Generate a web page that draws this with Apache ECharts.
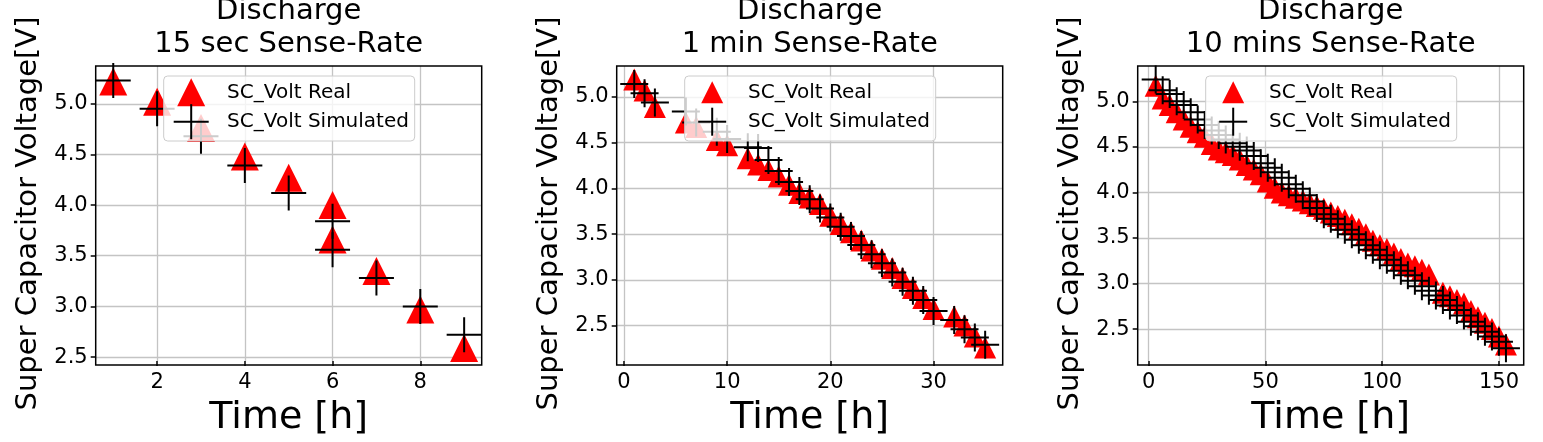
<!DOCTYPE html>
<html><head><meta charset="utf-8">
<script src="https://cdn.jsdelivr.net/npm/echarts@6/dist/echarts.min.js"></script>
<style>html,body{margin:0;padding:0;background:#fff}#c{width:1543px;height:442px}</style>
</head><body><div id="c"></div>
<script>
// ---------------- data ----------------
const titles = ['Discharge\n15 sec Sense-Rate', 'Discharge\n1 min Sense-Rate', 'Discharge\n10 mins Sense-Rate'];
const xLabel = 'Time [h]';
const yLabel = 'Super Capacitor Voltage[V]';
const nameReal = 'SC_Volt Real';
const nameSim = 'SC_Volt Simulated';

const time15s = [1, 2, 3, 4, 5, 6, 6, 7, 8, 9];
const real15s = [5.22, 5.02, 4.76, 4.48, 4.27, 4.00, 3.66, 3.35, 2.97, 2.59];
const sim15s  = [5.23, 4.95, 4.68, 4.39, 4.12, 3.84, 3.56, 3.28, 3.00, 2.72];

const time1m = [1, 2, 3, 6, 7, 9, 10, 12, 13, 14, 15, 16, 17, 18, 19, 20, 21, 22, 23, 24, 25, 26, 27, 28, 29, 30, 32, 33, 34, 35];
const real1m = [5.19, 5.07, 4.89, 4.72, 4.67, 4.53, 4.47, 4.33, 4.26, 4.20, 4.13, 4.04, 3.95, 3.90, 3.83, 3.70, 3.61, 3.52, 3.43, 3.32, 3.23, 3.13, 3.02, 2.91, 2.80, 2.68, 2.60, 2.50, 2.38, 2.26];
const sim1m  = [5.14, 5.04, 4.94, 4.84, 4.72, 4.62, 4.54, 4.45, 4.44, 4.31, 4.19, 4.07, 3.97, 3.88, 3.78, 3.68, 3.58, 3.48, 3.38, 3.28, 3.18, 3.08, 2.98, 2.88, 2.78, 2.66, 2.56, 2.46, 2.37, 2.29];

const time10m = [3, 6, 9, 12, 15, 18, 21, 24, 27, 30, 33, 36, 39, 42, 45, 48, 51, 54, 57, 60, 63, 66, 69, 72, 75, 78, 81, 84, 87, 90, 93, 96, 99, 102, 105, 108, 111, 114, 117, 120, 123, 126, 129, 132, 135, 138, 141, 144, 147, 150, 153];
const real10m = [5.17, 5.03, 4.96, 4.88, 4.80, 4.72, 4.66, 4.61, 4.53, 4.47, 4.44, 4.41, 4.36, 4.30, 4.25, 4.20, 4.12, 4.05, 4.00, 3.97, 3.94, 3.91, 3.88, 3.85, 3.82, 3.78, 3.74, 3.70, 3.65, 3.60, 3.54, 3.47, 3.42, 3.38, 3.33, 3.27, 3.22, 3.19, 3.15, 3.10, null, 2.90, 2.86, 2.82, 2.78, 2.70, 2.63, 2.57, 2.50, 2.42, 2.33];
const sim10m  = [5.24, 5.12, 5.08, 5.00, 4.96, 4.88, 4.80, 4.74, 4.68, 4.63, 4.58, 4.54, 4.50, 4.46, 4.40, 4.32, 4.27, 4.22, 4.16, 4.09, 4.04, 3.97, 3.90, 3.83, 3.76, 3.71, 3.65, 3.59, 3.54, 3.48, 3.42, 3.37, 3.31, 3.26, 3.20, 3.14, 3.09, 3.03, 2.97, 2.92, 2.87, 2.82, 2.76, 2.71, 2.65, 2.58, 2.53, 2.47, 2.42, 2.36, 2.29];

const xTicks15s = [2, 4, 6, 8];
const xTicks1m = [0, 10, 20, 30];
const xTicks10m = [0, 50, 100, 150];
const yTicks = [2.5, 3.0, 3.5, 4.0, 4.5, 5.0];

// ---------------- layout / style ----------------
const FONT = '"DejaVu Sans", Verdana, sans-serif';
const TOP = 66, W = 386, H = 299;
const panels = [
  { left: 95.7,  xMin: 0.6,  xMax: 9.4,   yMin: 2.461, yMax: 5.373, tri: 28, plus: 35, x: time15s, real: real15s, sim: sim15s, xt: xTicks15s },
  { left: 616.7, xMin: -0.7, xMax: 36.7,  yMin: 2.112, yMax: 5.338, tri: 22, plus: 28, x: time1m,  real: real1m,  sim: sim1m,  xt: xTicks1m },
  { left: 1137.7,xMin: -4.7, xMax: 160.6, yMin: 2.150, yMax: 5.387, tri: 22, plus: 28, x: time10m, real: real10m, sim: sim10m, xt: xTicks10m }
];

function pts(xs, ys) {
  const out = [];
  xs.forEach((x, i) => { if (ys[i] != null) out.push([x, ys[i]]); });
  return out;
}

const TICKFS = 21;
const PLUS = 'path://M0,10L20,10M10,0L10,20';
const option = {
  animation: false,
  backgroundColor: '#fff',
  title: panels.map((p, i) => ({
    text: titles[i], left: p.left + W / 2, top: -5, padding: 0, textAlign: 'center',
    textStyle: { fontFamily: FONT, fontSize: 29, fontWeight: 'normal', color: '#000', lineHeight: 33 }
  })),
  grid: panels.map(p => ({ left: p.left, top: TOP, width: W, height: H, containLabel: false })),
  xAxis: panels.map((p, i) => ({
    gridIndex: i, type: 'value', min: p.xMin, max: p.xMax,
    name: xLabel, nameLocation: 'middle', nameGap: 38,
    nameTextStyle: { fontFamily: FONT, fontSize: 38, color: '#000', lineHeight: 38 },
    axisLine: { show: false, onZero: false },
    axisTick: { show: true, length: 5, lineStyle: { color: '#000', width: 1.5 }, customValues: p.xt },
    axisLabel: { customValues: p.xt, fontFamily: FONT, fontSize: TICKFS, color: '#000', margin: 11, formatter: v => String(v) },
    splitLine: { show: true, lineStyle: { color: '#c4c4c4', width: 1.3 } }
  })),
  yAxis: panels.map((p, i) => ({
    gridIndex: i, type: 'value', min: p.yMin, max: p.yMax,
    name: yLabel, nameLocation: 'middle', nameGap: 53,
    nameTextStyle: { fontFamily: FONT, fontSize: 29, color: '#000', lineHeight: 29 },
    axisLine: { show: false, onZero: false },
    axisTick: { show: true, length: 5, lineStyle: { color: '#000', width: 1.5 }, customValues: yTicks },
    axisLabel: { customValues: yTicks, fontFamily: FONT, fontSize: TICKFS, color: '#000', margin: 8, formatter: v => v.toFixed(1) },
    splitLine: { show: true, lineStyle: { color: '#c4c4c4', width: 1.3 } }
  })),
  series: panels.flatMap((p, i) => [
    { type: 'scatter', name: nameReal, xAxisIndex: i, yAxisIndex: i, data: pts(p.x, p.real),
      symbol: 'triangle', symbolSize: p.tri, itemStyle: { color: '#ff0000', opacity: 1 }, silent: true, clip: true, z: 2 },
    { type: 'scatter', name: nameSim, xAxisIndex: i, yAxisIndex: i, data: pts(p.x, p.sim),
      symbol: PLUS, symbolSize: p.plus, itemStyle: { color: 'rgba(0,0,0,0)', borderColor: '#000', borderWidth: 2, opacity: 1 }, silent: true, clip: true, z: 3 }
  ]),
  graphic: panels.flatMap(p => {
    const bx = p.left + 68, by = 76, mx = bx + 27.5, r1 = by + 16.3, r2 = by + 45.7;
    const t = p.tri / 2, q = p.plus / 2;
    return [
      { type: 'rect', silent: true, z: 50, shape: { x: p.left, y: TOP, width: W, height: H }, style: { fill: 'none', stroke: '#000', lineWidth: 1.5 } },
      { type: 'rect', silent: true, z: 100, shape: { x: bx, y: by, width: 251, height: 65, r: 4 }, style: { fill: 'rgba(255,255,255,0.8)', stroke: '#cccccc', lineWidth: 1 } },
      { type: 'polygon', silent: true, z: 101, shape: { points: [[mx, r1 - t], [mx - t, r1 + t], [mx + t, r1 + t]] }, style: { fill: '#ff0000' } },
      { type: 'line', silent: true, z: 101, shape: { x1: mx - q, y1: r2, x2: mx + q, y2: r2 }, style: { stroke: '#000', lineWidth: 2 } },
      { type: 'line', silent: true, z: 101, shape: { x1: mx, y1: r2 - q, x2: mx, y2: r2 + q }, style: { stroke: '#000', lineWidth: 2 } },
      { type: 'text', silent: true, z: 101, x: bx + 63.4, y: r1, style: { text: nameReal, fontFamily: FONT, fontSize: 20, fill: '#000', align: 'left', verticalAlign: 'middle' } },
      { type: 'text', silent: true, z: 101, x: bx + 63.4, y: r2, style: { text: nameSim, fontFamily: FONT, fontSize: 20, fill: '#000', align: 'left', verticalAlign: 'middle' } }
    ];
  })
};

const chart = echarts.init(document.getElementById('c'), null, { renderer: 'canvas' });
chart.setOption(option);
</script>
</body></html>
